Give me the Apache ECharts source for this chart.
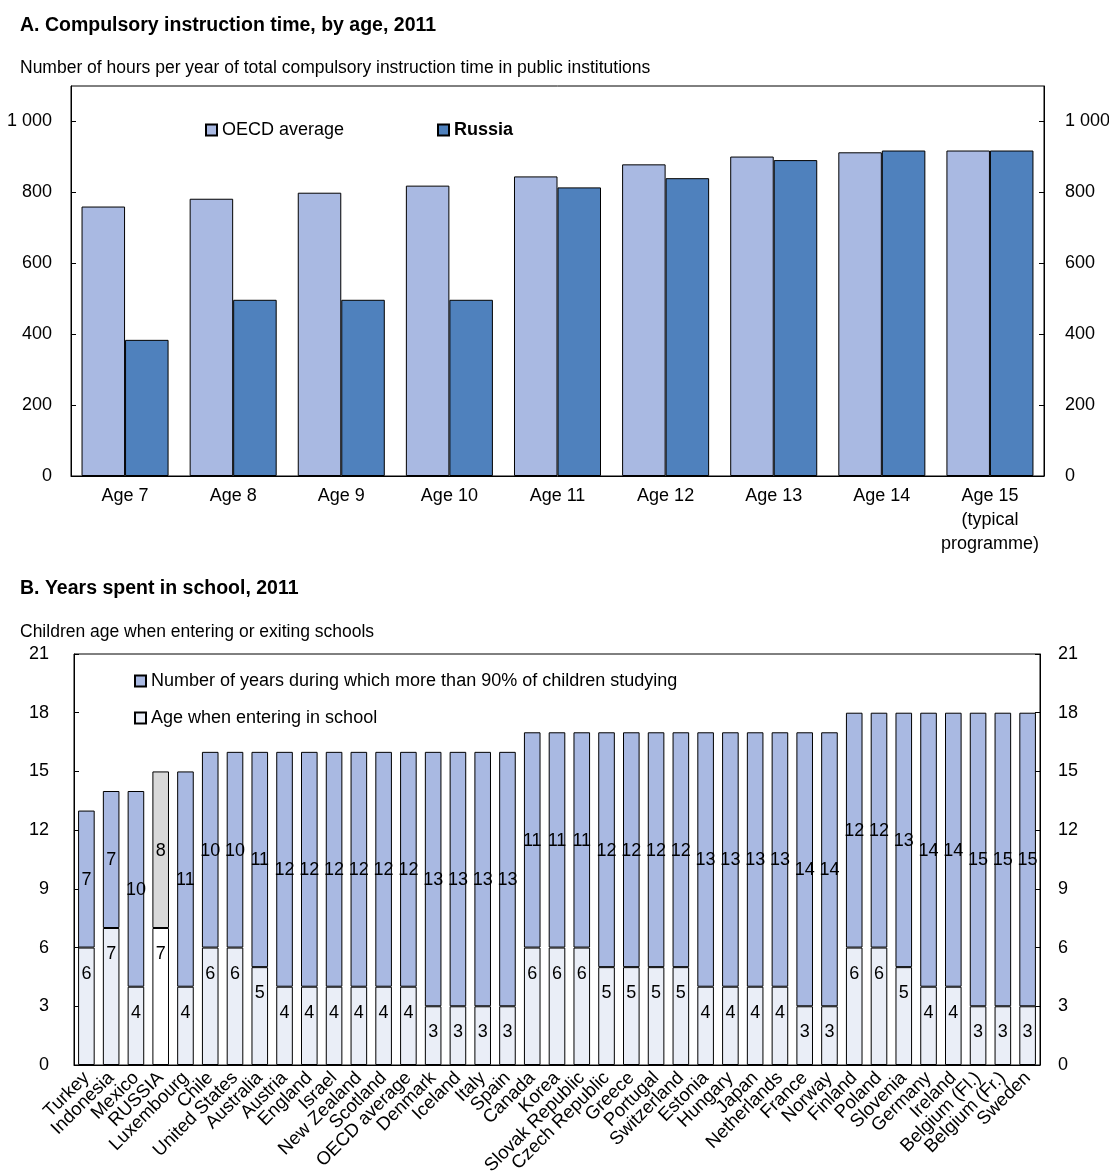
<!DOCTYPE html>
<html>
<head>
<meta charset="utf-8">
<script src="https://cdn.jsdelivr.net/npm/echarts@6/dist/echarts.min.js"></script>
<style>
html,body{margin:0;padding:0;background:#fff;}
#chart{width:1109px;height:1173px;}
</style>
</head>
<body>
<div id="chart"></div>
<script>
// ---- Panel A data ----
const ageCategories = ['Age 7', 'Age 8', 'Age 9', 'Age 10', 'Age 11', 'Age 12', 'Age 13', 'Age 14', 'Age 15\n(typical\nprogramme)'];
const oecdHours = [760, 782, 799, 819, 845, 879, 901, 913, 918];
const russiaHours = [384, 497, 497, 497, 814, 840, 891, 918, 918];
const hourTicks = ['0', '200', '400', '600', '800', '1 000'];

// ---- Panel B data ----
const countries = ['Turkey', 'Indonesia', 'Mexico', 'RUSSIA', 'Luxembourg', 'Chile', 'United States', 'Australia', 'Austria', 'England', 'Israel', 'New Zealand', 'Scotland', 'OECD average', 'Denmark', 'Iceland', 'Italy', 'Spain', 'Canada', 'Korea', 'Slovak Republic', 'Czech Republic', 'Greece', 'Portugal', 'Switzerland', 'Estonia', 'Hungary', 'Japan', 'Netherlands', 'France', 'Norway', 'Finland', 'Poland', 'Slovenia', 'Germany', 'Ireland', 'Belgium (Fl.)', 'Belgium (Fr.)', 'Sweden'];
const entryAge = [6, 7, 4, 7, 4, 6, 6, 5, 4, 4, 4, 4, 4, 4, 3, 3, 3, 3, 6, 6, 6, 5, 5, 5, 5, 4, 4, 4, 4, 3, 3, 6, 6, 5, 4, 4, 3, 3, 3];
const yearsOver90 = [7, 7, 10, 8, 11, 10, 10, 11, 12, 12, 12, 12, 12, 12, 13, 13, 13, 13, 11, 11, 11, 12, 12, 12, 12, 13, 13, 13, 13, 14, 14, 12, 12, 13, 14, 14, 15, 15, 15];
const highlightCountry = 'RUSSIA';

const FONT = "'Liberation Sans Narrow', 'Arial Narrow', 'Liberation Sans', Arial, sans-serif";
const LIGHT = '#A9B9E2';
const DARK = '#4F81BD';
const PALE = '#EAEEF7';
const GREY = '#D9D9D9';
const BLACK = '#000';

const entryData = entryAge.map((v, i) => countries[i] === highlightCountry ? {value: v, itemStyle: {color: '#FFFFFF'}} : v);
const yearsData = yearsOver90.map((v, i) => countries[i] === highlightCountry ? {value: v, itemStyle: {color: GREY}} : v);

const chart = echarts.init(document.getElementById('chart'), null, {renderer: 'canvas'});

function yAxis(extra, labelExtra) {
  return Object.assign({
    type: 'value',
    axisLine: {show: true, lineStyle: {color: BLACK, width: 1}},
    axisTick: {show: true, inside: true, length: 5, lineStyle: {color: BLACK}},
    splitLine: {show: false},
    axisLabel: Object.assign({color: BLACK, fontFamily: FONT, fontSize: 18, margin: 19}, labelExtra || {})
  }, extra);
}

const legendText = {fontFamily: FONT, fontSize: 18, color: BLACK};

const option = {
  backgroundColor: '#fff',
  animation: false,
  textStyle: {fontFamily: FONT},
  title: [
    {text: 'A. Compulsory instruction time, by age, 2011', left: 20, top: 16, padding: 0,
     textStyle: {fontFamily: FONT, fontSize: 19.5, fontWeight: 'bold', color: BLACK}},
    {text: 'Number of hours per year of total compulsory instruction time in public institutions', left: 20, top: 59, padding: 0,
     textStyle: {fontFamily: FONT, fontSize: 17.5, fontWeight: 'normal', color: BLACK}},
    {text: 'B. Years spent in school, 2011', left: 20, top: 579, padding: 0,
     textStyle: {fontFamily: FONT, fontSize: 19.5, fontWeight: 'bold', color: BLACK}},
    {text: 'Children age when entering or exiting schools', left: 20, top: 623, padding: 0,
     textStyle: {fontFamily: FONT, fontSize: 17.5, fontWeight: 'normal', color: BLACK}}
  ],
  legend: [
    {data: ['OECD average'], left: 205, top: 121, padding: 0, icon: 'rect', itemWidth: 11, itemHeight: 11,
     textStyle: legendText},
    {data: [{name: 'Russia', textStyle: {fontWeight: 'bold'}}], left: 437, top: 121, padding: 0, icon: 'rect', itemWidth: 11, itemHeight: 11,
     textStyle: legendText},
    {data: ['Number of years during which more than 90% of children studying'], left: 134, top: 672, padding: 0, icon: 'rect', itemWidth: 11, itemHeight: 11,
     textStyle: legendText},
    {data: ['Age when entering in school'], left: 134, top: 709, padding: 0, icon: 'rect', itemWidth: 11, itemHeight: 11,
     textStyle: legendText}
  ],
  grid: [
    {left: 71, right: 65, top: 86, bottom: 697, show: true, borderColor: BLACK, borderWidth: 1,
     containLabel: false, outerBoundsMode: 'none'},
    {left: 74, right: 69, top: 654, bottom: 108, show: true, borderColor: BLACK, borderWidth: 1,
     containLabel: false, outerBoundsMode: 'none'}
  ],
  xAxis: [
    {type: 'category', gridIndex: 0, data: ageCategories,
     axisLine: {show: true, lineStyle: {color: BLACK}}, axisTick: {show: false},
     axisLabel: {color: BLACK, fontFamily: FONT, fontSize: 18, lineHeight: 24, margin: 8, interval: 0}},
    {type: 'category', gridIndex: 1, data: countries,
     axisLine: {show: true, lineStyle: {color: BLACK}}, axisTick: {show: false},
     axisLabel: {color: BLACK, fontFamily: FONT, fontSize: 18.5, rotate: 45, margin: 10, interval: 0}}
  ],
  yAxis: [
    yAxis({gridIndex: 0, position: 'left', min: 0, max: 1100, interval: 200},
          {showMaxLabel: false, margin: 19, formatter: v => hourTicks[v / 200] || ''}),
    yAxis({gridIndex: 0, position: 'right', min: 0, max: 1100, interval: 200},
          {showMaxLabel: false, margin: 21, formatter: v => hourTicks[v / 200] || ''}),
    yAxis({gridIndex: 1, position: 'left', min: 0, max: 21, interval: 3}, {margin: 25}),
    yAxis({gridIndex: 1, position: 'right', min: 0, max: 21, interval: 3}, {margin: 18})
  ],
  series: [
    {name: 'OECD average', type: 'bar', xAxisIndex: 0, yAxisIndex: 0, data: oecdHours,
     barGap: '0%', barCategoryGap: '19.5%',
     itemStyle: {color: LIGHT, borderColor: BLACK, borderWidth: 1}},
    {name: 'Russia', type: 'bar', xAxisIndex: 0, yAxisIndex: 0, data: russiaHours,
     barGap: '0%', barCategoryGap: '19.5%',
     itemStyle: {color: DARK, borderColor: BLACK, borderWidth: 1}},
    {name: 'Age when entering in school', type: 'bar', xAxisIndex: 1, yAxisIndex: 2, stack: 'school', data: entryData,
     barCategoryGap: '33%',
     itemStyle: {color: PALE, borderColor: BLACK, borderWidth: 1},
     label: {show: true, position: 'insideTop', distance: 17, color: BLACK, fontFamily: FONT, fontSize: 18}},
    {name: 'Number of years during which more than 90% of children studying', type: 'bar', xAxisIndex: 1, yAxisIndex: 2, stack: 'school', data: yearsData,
     barCategoryGap: '33%',
     itemStyle: {color: LIGHT, borderColor: BLACK, borderWidth: 1},
     label: {show: true, position: 'inside', offset: [0, 1], color: BLACK, fontFamily: FONT, fontSize: 18}}
  ]
};
chart.setOption(option);
</script>
</body>
</html>
